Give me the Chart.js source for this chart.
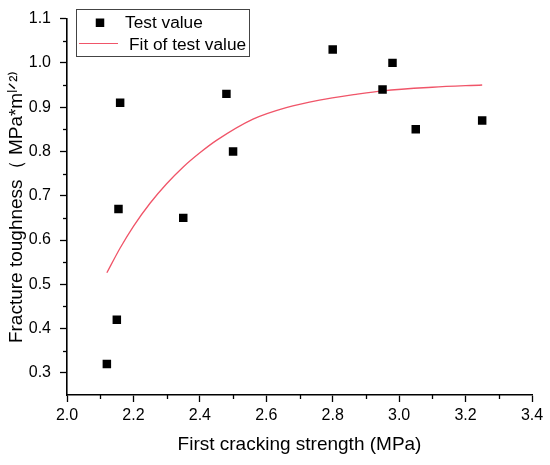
<!DOCTYPE html>
<html><head><meta charset="utf-8">
<script src="https://cdn.jsdelivr.net/npm/chart.js@4/dist/chart.umd.min.js"></script>
<style>html,body{margin:0;padding:0;background:#fff}</style>
</head><body>
<canvas id="c" width="550" height="465"></canvas>
<script>
const testX = [2.12, 2.15, 2.155, 2.16, 2.35, 2.48, 2.50, 2.80, 2.95, 2.98, 3.05, 3.25];
const testY = [0.32, 0.42, 0.67, 0.91, 0.65, 0.93, 0.80, 1.03, 0.94, 1.00, 0.85, 0.87];
const fitX = [2.12, 2.16, 2.20, 2.25, 2.30, 2.35, 2.40, 2.45, 2.56, 2.66, 2.76, 2.87, 2.95, 3.10, 3.25];
const fitY = [0.526, 0.582, 0.631, 0.683, 0.727, 0.765, 0.797, 0.825, 0.873, 0.899, 0.916, 0.929, 0.937, 0.945, 0.950];
const xTicks = [2.0, 2.2, 2.4, 2.6, 2.8, 3.0, 3.2, 3.4];
const yTicks = [0.3, 0.4, 0.5, 0.6, 0.7, 0.8, 0.9, 1.0, 1.1];
const seriesLabels = ['Test value', 'Fit of test value'];
const xTitle = 'First cracking strength (MPa)';
const yTitle = 'Fracture toughness\uFF08 MPa*m\u02E1\u141F\u00B2\u207E';

const FONT = '"Liberation Sans", Arial, sans-serif';
const fitColor = 'rgb(240,85,105)';

const minorTicks = {
  id: 'minorTicks',
  afterDraw(chart) {
    const ctx = chart.ctx, xs = chart.scales.x, ys = chart.scales.y;
    ctx.save();
    ctx.strokeStyle = '#000';
    ctx.lineWidth = 1.3;
    for (let i = 0; i < xTicks.length - 1; i++) {
      const px = Math.round(xs.getPixelForValue((xTicks[i] + xTicks[i + 1]) / 2)) + 0.5;
      ctx.beginPath(); ctx.moveTo(px, xs.top); ctx.lineTo(px, xs.top + 4); ctx.stroke();
    }
    for (let i = 0; i < yTicks.length - 1; i++) {
      const py = Math.round(ys.getPixelForValue((yTicks[i] + yTicks[i + 1]) / 2)) + 0.5;
      ctx.beginPath(); ctx.moveTo(ys.right, py); ctx.lineTo(ys.right - 4, py); ctx.stroke();
    }
    ctx.restore();
  }
};

const boxLegend = {
  id: 'boxLegend',
  afterDraw(chart) {
    const ctx = chart.ctx;
    ctx.save();
    ctx.strokeStyle = '#444';
    ctx.lineWidth = 1;
    ctx.strokeRect(76.5, 9.5, 173, 47);
    ctx.fillStyle = '#000';
    ctx.fillRect(95.75, 18.5, 8.5, 8.5);
    ctx.strokeStyle = fitColor;
    ctx.lineWidth = 1.2;
    ctx.beginPath(); ctx.moveTo(79, 43.5); ctx.lineTo(118, 43.5); ctx.stroke();
    ctx.fillStyle = '#000';
    ctx.font = '17.3px ' + FONT;
    ctx.textBaseline = 'middle';
    ctx.textAlign = 'left';
    ctx.fillText(seriesLabels[0], 125, 23);
    ctx.fillText(seriesLabels[1], 129, 45);
    ctx.restore();
  }
};

new Chart(document.getElementById('c'), {
  type: 'scatter',
  data: {
    datasets: [
      {
        label: seriesLabels[0],
        data: testX.map((x, i) => ({ x, y: testY[i] })),
        pointStyle: 'rect',
        pointRadius: 6,
        pointHoverRadius: 6,
        backgroundColor: '#000',
        borderColor: '#000',
        borderWidth: 0,
        order: 1
      },
      {
        type: 'line',
        label: seriesLabels[1],
        data: fitX.map((x, i) => ({ x, y: fitY[i] })),
        showLine: true,
        borderColor: fitColor,
        borderWidth: 1.3,
        pointRadius: 0,
        fill: false,
        cubicInterpolationMode: 'monotone',
        order: 2
      }
    ]
  },
  options: {
    responsive: false,
    animation: false,
    devicePixelRatio: 1,
    layout: { padding: { top: 15, right: 18, left: 0, bottom: 0 } },
    plugins: { legend: { display: false }, tooltip: { enabled: false } },
    scales: {
      x: {
        type: 'linear', min: 2.0, max: 3.4,
        afterBuildTicks: s => { s.ticks = xTicks.map(v => ({ value: v })); },
        afterFit: s => { s.height = 70; },
        grid: { drawOnChartArea: false, drawTicks: true, tickLength: 7, tickColor: '#000', tickWidth: 1.3 },
        border: { display: true, color: '#000', width: 1.6 },
        ticks: { color: '#000', padding: 4, maxRotation: 0, font: { family: FONT, size: 16 },
                 callback: v => v.toFixed(1) },
        title: { display: true, text: xTitle, color: '#000', font: { family: FONT, size: 19 }, padding: { top: 0, bottom: 9 } }
      },
      y: {
        type: 'linear', min: 0.25, max: 1.1,
        afterBuildTicks: s => { s.ticks = yTicks.map(v => ({ value: v })); },
        afterFit: s => { s.width = 67; },
        grid: { drawOnChartArea: false, drawTicks: true, tickLength: 7, tickColor: '#000', tickWidth: 1.3 },
        border: { display: true, color: '#000', width: 1.6 },
        ticks: { color: '#000', padding: 9, font: { family: FONT, size: 16 },
                 callback: v => v.toFixed(1) },
        title: { display: true, text: yTitle, color: '#000', font: { family: FONT, size: 19 }, padding: { top: 5, bottom: 0 } }
      }
    }
  },
  plugins: [minorTicks, boxLegend]
});
</script>
</body></html>
